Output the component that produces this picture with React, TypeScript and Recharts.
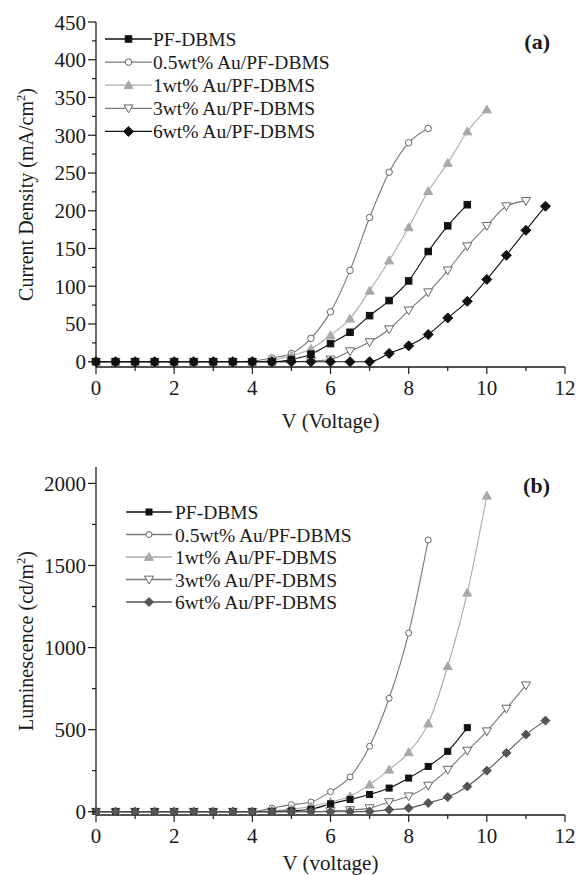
import React from 'react';
import { LineChart, Line, XAxis, YAxis, Legend } from 'recharts';

const FONT = '"Liberation Serif", "Times New Roman", serif';
const INK = '#1a1a1a';

// voltage steps (V)
const voltage = [0, 0.5, 1, 1.5, 2, 2.5, 3, 3.5, 4, 4.5, 5, 5.5, 6, 6.5, 7, 7.5, 8, 8.5, 9, 9.5, 10, 10.5, 11, 11.5];

// (a) current density, mA/cm2
const jPF = [0, 0, 0, 0, 0, 0, 0, 0, 0, 0, 3, 10, 24, 39, 61, 81, 107, 146, 180, 208];
const j05 = [0, 0, 0, 0, 0, 0, 0, 0, 1, 5, 11, 31, 66, 121, 191, 251, 290, 309];
const j1 = [0, 0, 0, 0, 0, 0, 0, 0, 0, 2, 8, 17, 35, 57, 94, 134, 178, 226, 263, 305, 334];
const j3 = [0, 0, 0, 0, 0, 0, 0, 0, 0, 0, 0, 1, 3, 14, 26, 43, 68, 92, 121, 153, 180, 206, 213];
const j6 = [0, 0, 0, 0, 0, 0, 0, 0, 0, 0, 0, 0, 0, 0, 0, 11, 21, 36, 58, 80, 109, 141, 174, 206];

// (b) luminescence, cd/m2
const lPF = [0, 0, 0, 0, 0, 0, 0, 0, 0, 0, 5, 15, 48, 75, 105, 144, 205, 276, 368, 512];
const l05 = [0, 0, 0, 0, 0, 0, 0, 0, 0, 22, 43, 59, 122, 212, 399, 691, 1088, 1655];
const l1 = [0, 0, 0, 0, 0, 0, 0, 0, 0, 5, 16, 32, 59, 94, 165, 256, 362, 537, 886, 1334, 1925];
const l3 = [0, 0, 0, 0, 0, 0, 0, 0, 0, 0, 0, 0, 5, 10, 22, 59, 94, 159, 256, 372, 490, 628, 770];
const l6 = [0, 0, 0, 0, 0, 0, 0, 0, 0, 0, 0, 0, 0, 0, 2, 12, 22, 53, 89, 154, 250, 358, 470, 555];

const seriesNames = ['PF-DBMS', '0.5wt% Au/PF-DBMS', '1wt% Au/PF-DBMS', '3wt% Au/PF-DBMS', '6wt% Au/PF-DBMS'];

const xTicks = [0, 1, 2, 3, 4, 5, 6, 7, 8, 9, 10, 11, 12];
const xMajor = [0, 2, 4, 6, 8, 10, 12];
const yTicksA = [0, 25, 50, 75, 100, 125, 150, 175, 200, 225, 250, 275, 300, 325, 350, 375, 400, 425, 450];
const yMajorA = [0, 50, 100, 150, 200, 250, 300, 350, 400, 450];
const yTicksB = [0, 250, 500, 750, 1000, 1250, 1500, 1750, 2000];
const yMajorB = [0, 500, 1000, 1500, 2000];

const rowsA = voltage.map((v, i) => ({
  v, pf: jPF[i] ?? null, a05: j05[i] ?? null, a1: j1[i] ?? null, a3: j3[i] ?? null, a6: j6[i] ?? null,
}));
const rowsB = voltage.map((v, i) => ({
  v, pf: lPF[i] ?? null, a05: l05[i] ?? null, a1: l1[i] ?? null, a3: l3[i] ?? null, a6: l6[i] ?? null,
}));

type Shape = 'square' | 'circle' | 'up' | 'down' | 'diamond';

function Marker({ shape, cx, cy, size, fill, stroke }: any) {
  const h = size / 2;
  switch (shape as Shape) {
    case 'square':
      return <rect x={cx - h} y={cy - h} width={size} height={size} fill={fill} stroke={stroke} />;
    case 'circle':
      return <circle cx={cx} cy={cy} r={h} fill={fill} stroke={stroke} strokeWidth={1} />;
    case 'up':
      return <polygon points={`${cx - h},${cy + h * 0.75} ${cx + h},${cy + h * 0.75} ${cx},${cy - h}`} fill={fill} stroke={stroke} />;
    case 'down':
      return <polygon points={`${cx - h},${cy - h * 0.75} ${cx + h},${cy - h * 0.75} ${cx},${cy + h}`} fill={fill} stroke={stroke} strokeWidth={1} />;
    default:
      return <polygon points={`${cx},${cy - h} ${cx + h},${cy} ${cx},${cy + h} ${cx - h},${cy}`} fill={fill} stroke={stroke} />;
  }
}

const dotFor = (s: any) => (p: any) => {
  if (p.cx == null || p.cy == null || p.value == null) return <g key={p.index} />;
  return <Marker key={p.index} shape={s.shape} cx={p.cx} cy={p.cy} size={s.size} fill={s.fill} stroke={s.stroke} />;
};

const styleA = [
  { key: 'pf', shape: 'square', size: 6.5, fill: '#111', stroke: '#111', line: '#111' },
  { key: 'a05', shape: 'circle', size: 6.5, fill: '#fff', stroke: '#666', line: '#777' },
  { key: 'a1', shape: 'up', size: 9, fill: '#a9a9a9', stroke: '#a9a9a9', line: '#aaa' },
  { key: 'a3', shape: 'down', size: 9, fill: '#fff', stroke: '#666', line: '#777' },
  { key: 'a6', shape: 'diamond', size: 10, fill: '#111', stroke: '#111', line: '#111' },
];
const styleB = [
  { key: 'pf', shape: 'square', size: 6, fill: '#111', stroke: '#111', line: '#111' },
  { key: 'a05', shape: 'circle', size: 6, fill: '#fff', stroke: '#666', line: '#777' },
  { key: 'a1', shape: 'up', size: 9, fill: '#a9a9a9', stroke: '#a9a9a9', line: '#aaa' },
  { key: 'a3', shape: 'down', size: 9, fill: '#fff', stroke: '#666', line: '#777' },
  { key: 'a6', shape: 'diamond', size: 9, fill: '#555', stroke: '#555', line: '#555' },
];
// drawing order: lightest first, diamonds on top
const drawOrder = [1, 2, 3, 0, 4];

const XTick = (p: any) => {
  const major = xMajor.includes(p.payload.value);
  return (
    <g>
      <line x1={p.x} x2={p.x} y1={p.y} y2={p.y + (major ? 7 : 4)} stroke={INK} strokeWidth={1.2} />
      {major && (
        <text x={p.x} y={p.y + 28} textAnchor="middle" fontSize={21} fontFamily={FONT} fill={INK}>
          {p.payload.value}
        </text>
      )}
    </g>
  );
};

const makeYTick = (majors: number[]) => (p: any) => {
  const major = majors.includes(p.payload.value);
  return (
    <g>
      <line x1={p.x - (major ? 8 : 4)} x2={p.x} y1={p.y} y2={p.y} stroke={INK} strokeWidth={1.2} />
      {major && (
        <text x={p.x - 10} y={p.y + 7.5} textAnchor="end" fontSize={21} fontFamily={FONT} fill={INK}>
          {p.payload.value}
        </text>
      )}
    </g>
  );
};

const yLabel = (text: string) => (p: any) => {
  const vb = p.viewBox || {};
  const cx = 33;
  const cy = (vb.y ?? 0) + (vb.height ?? 0) / 2;
  return (
    <text x={cx} y={cy} transform={`rotate(-90 ${cx} ${cy})`} textAnchor="middle" fontSize={20} fontFamily={FONT} fill={INK}>
      {text}
      <tspan dy={-8} fontSize={12.5}>2</tspan>
      <tspan dy={8}>)</tspan>
    </text>
  );
};

const xLabel = (text: string, dy: number) => (p: any) => {
  const vb = p.viewBox || {};
  return (
    <text x={vb.x + vb.width / 2} y={vb.y + dy} textAnchor="middle" fontSize={21} fontFamily={FONT} fill={INK}>
      {text}
    </text>
  );
};

const makeLegend = (styles: any[], lineX: [number, number], textX: number, y0: number, step: number) => () => (
  <svg width={270} height={140} style={{ display: 'block', overflow: 'visible' }}>
    {[0, 1, 2, 3, 4].map((i) => {
      const s = styles[i];
      const y = y0 + i * step;
      const mid = (lineX[0] + lineX[1]) / 2;
      return (
        <g key={s.key}>
          <line x1={lineX[0]} x2={lineX[1]} y1={y} y2={y} stroke={s.line} strokeWidth={1.3} />
          <Marker shape={s.shape} cx={mid} cy={y} size={s.size} fill={s.fill} stroke={s.stroke} />
          <text x={textX} y={y + 7} fontSize={19.5} fontFamily={FONT} fill={INK}>
            {seriesNames[i]}
          </text>
        </g>
      );
    })}
  </svg>
);

function Panel(props: any) {
  const { data, styles, yDomain, yTicks, yMajor, yText, xText, xDy, height, top, xHeight, legend, legendPos, tag, tagY } = props;
  return (
    <div style={{ position: 'relative', width: 576, height }}>
      <LineChart width={576} height={height} data={data} margin={{ top, right: 11, left: 0, bottom: 0 }}>
        <XAxis
          dataKey="v" type="number" domain={[0, 12]} ticks={xTicks} interval={0}
          height={xHeight} tickLine={false} tickSize={0} tickMargin={0} tick={XTick}
          axisLine={{ stroke: INK, strokeWidth: 1.3 }}
          label={{ content: xLabel(xText, xDy) }}
        />
        <XAxis
          xAxisId="top" orientation="top" dataKey="v" type="number" domain={[0, 12]} ticks={xTicks} interval={0}
          height={0} tickSize={3} tick={false} tickLine={{ stroke: INK }} axisLine={{ stroke: INK, strokeWidth: 1.3 }}
        />
        <YAxis
          type="number" domain={yDomain} ticks={yTicks} interval={0} allowDataOverflow
          width={96} tickLine={false} tickSize={0} tickMargin={0} tick={makeYTick(yMajor)}
          axisLine={{ stroke: INK, strokeWidth: 1.3 }}
          label={{ content: yLabel(yText) }}
        />
        <YAxis
          yAxisId="right" orientation="right" type="number" domain={yDomain} ticks={yTicks} interval={0}
          allowDataOverflow width={0} tickSize={3} tick={false} tickLine={{ stroke: INK }}
          axisLine={{ stroke: INK, strokeWidth: 1.3 }}
        />
        <Legend
          layout="vertical" align="center" verticalAlign="middle"
          wrapperStyle={{ left: legendPos[0], top: legendPos[1], width: 270, height: 140 }}
          content={legend}
        />
        {drawOrder.map((i) => {
          const s = styles[i];
          return (
            <Line
              key={s.key} type="monotone" dataKey={s.key} name={seriesNames[i]}
              stroke={s.line} strokeWidth={1.1} dot={dotFor(s)} activeDot={false}
              isAnimationActive={false} connectNulls={false}
            />
          );
        })}
      </LineChart>
      <svg width={80} height={40} style={{ position: 'absolute', left: 496, top: tagY - 20 }}>
        <text x={54} y={27} textAnchor="end" fontSize={22} fontWeight="bold" fontFamily={FONT} fill={INK}>
          {tag}
        </text>
      </svg>
    </div>
  );
}

export default function App() {
  return (
    <div style={{ position: 'absolute', left: 0, top: 0, width: 576, height: 875, background: '#fff' }}>
      <Panel
        data={rowsA} styles={styleA} yDomain={[-7, 450]} yTicks={yTicksA} yMajor={yMajorA}
        yText="Current Density (mA/cm" xText="V (Voltage)" xDy={61}
        height={440} top={22} xHeight={73}
        legend={makeLegend(styleA, [105, 152], 153, 39, 23.1)} legendPos={[0, 0]}
        tag="(a)" tagY={42}
      />
      <Panel
        data={rowsB} styles={styleB} yDomain={[-20, 2100]} yTicks={yTicksB} yMajor={yMajorB}
        yText="Luminescence (cd/m" xText="V (voltage)" xDy={55}
        height={435} top={27} xHeight={60}
        legend={makeLegend(styleB, [126, 172], 175, 72, 22.5)} legendPos={[0, 0]}
        tag="(b)" tagY={46}
      />
    </div>
  );
}
